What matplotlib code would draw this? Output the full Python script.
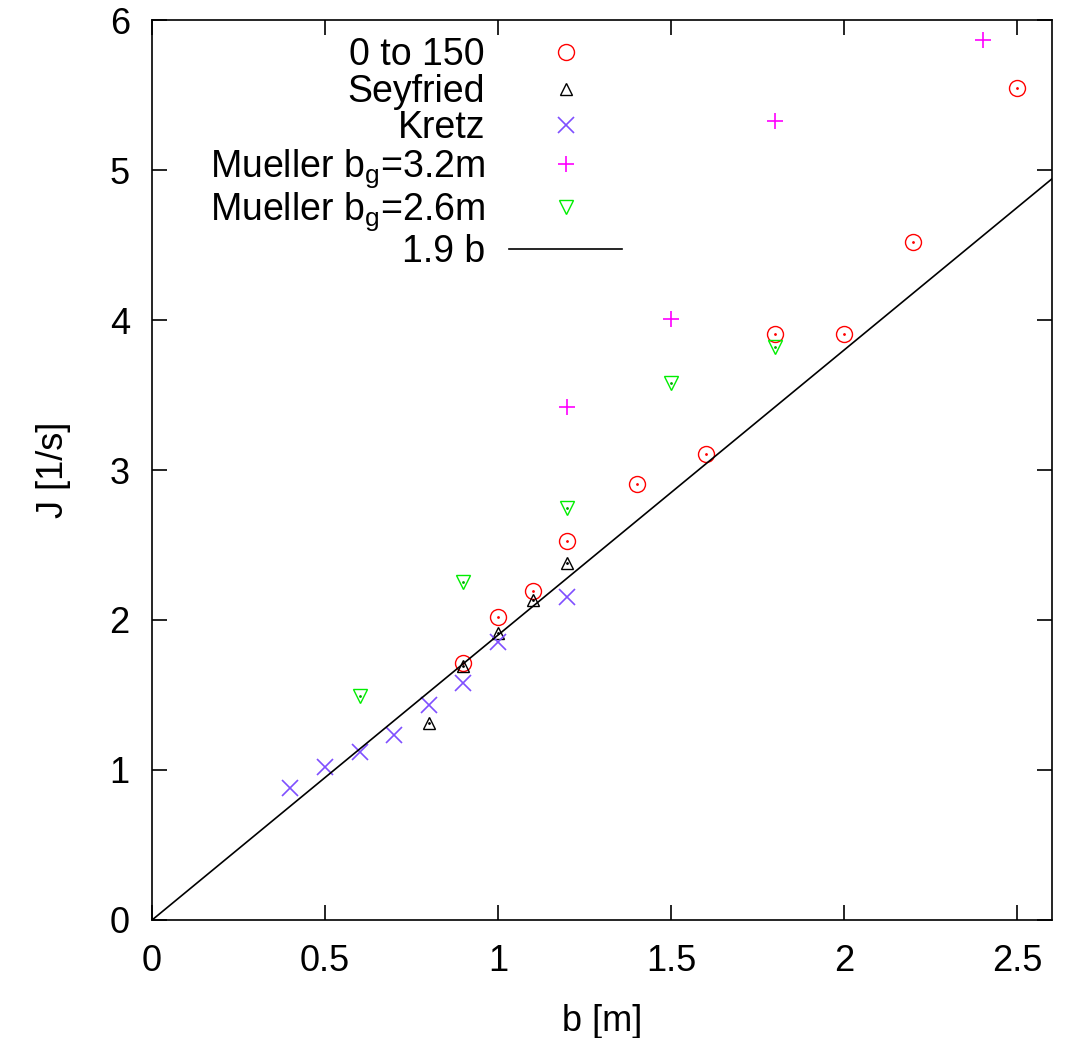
import numpy as np
import matplotlib.pyplot as plt

plt.rcParams['font.family'] = ['Liberation Sans', 'DejaVu Sans']
plt.rcParams['mathtext.fontset'] = 'custom'
plt.rcParams['mathtext.rm'] = 'Liberation Sans'
plt.rcParams['mathtext.it'] = 'Liberation Sans'

# data
b_red = [0.9, 1.0, 1.1, 1.2, 1.4, 1.6, 1.8, 2.0, 2.2, 2.5]
j_red = [1.71, 2.02, 2.19, 2.53, 2.91, 3.11, 3.91, 3.91, 4.52, 5.55]

b_sey = [0.8, 0.9, 1.0, 1.1, 1.2]
j_sey = [1.31, 1.69, 1.91, 2.13, 2.38]

b_kretz = [0.4, 0.5, 0.6, 0.7, 0.8, 0.9, 1.0, 1.2]
j_kretz = [0.88, 1.02, 1.12, 1.23, 1.43, 1.58, 1.85, 2.15]

b_m32 = [1.2, 1.5, 1.8, 2.4]
j_m32 = [3.42, 4.01, 5.33, 5.87]

b_m26 = [0.6, 0.9, 1.2, 1.5, 1.8]
j_m26 = [1.49, 2.25, 2.75, 3.58, 3.82]

slope = 1.9

fig = plt.figure(figsize=(10.71, 10.38), dpi=100)
ax = fig.add_axes([0.142, 0.1137, 0.840, 0.867])

ax.plot(b_red, j_red, 'o', ls='none', mfc='none', mec='#ff0000', ms=11.5, mew=1, label='0 to 150')
ax.plot(b_red, j_red, '.', ls='none', color='#ff0000', ms=2)
ax.plot(b_sey, j_sey, '^', ls='none', mfc='none', mec='black', ms=9, mew=1, label='Seyfried')
ax.plot(b_sey, j_sey, '.', ls='none', color='black', ms=2)
ax.plot(b_kretz, j_kretz, 'x', ls='none', color='#7f4fff', ms=12, mew=1.2, label='Kretz')
ax.plot(b_m32, j_m32, '+', ls='none', color='#ff00ff', ms=12, mew=1.2, label=r'Mueller b$_\mathrm{g}$=3.2m')
ax.plot(b_m26, j_m26, 'v', ls='none', mfc='none', mec='#00ee00', ms=10, mew=1, label=r'Mueller b$_\mathrm{g}$=2.6m')
ax.plot(b_m26, j_m26, '.', ls='none', color='#00aa00', ms=2)

xs = np.array([0, 2.6])
ax.plot(xs, slope * xs, color='black', lw=1.2, label='1.9 b')

ax.set_xlim(0, 2.6)
ax.set_ylim(0, 6)
ax.set_xticks([0, 0.5, 1, 1.5, 2, 2.5])
ax.set_xticklabels(['0', '0.5', '1', '1.5', '2', '2.5'])
ax.set_yticks(range(7))
ax.tick_params(direction='in', top=True, right=True, length=11, width=1.2, labelsize=26)
ax.tick_params(axis='x', pad=17)
ax.tick_params(axis='y', pad=16)
for s in ax.spines.values():
    s.set_linewidth(1.2)
ax.set_xlabel('b [m]', fontsize=26, labelpad=18)
ax.set_ylabel('J [1/s]', fontsize=26, labelpad=28)

ax.legend(loc='upper right', bbox_to_anchor=(0.543, 1.002), frameon=False, markerfirst=False,
          fontsize=27, handlelength=3.0, handletextpad=0.65, labelspacing=0.02, borderpad=0)

fig.savefig('out.png', dpi=100)
